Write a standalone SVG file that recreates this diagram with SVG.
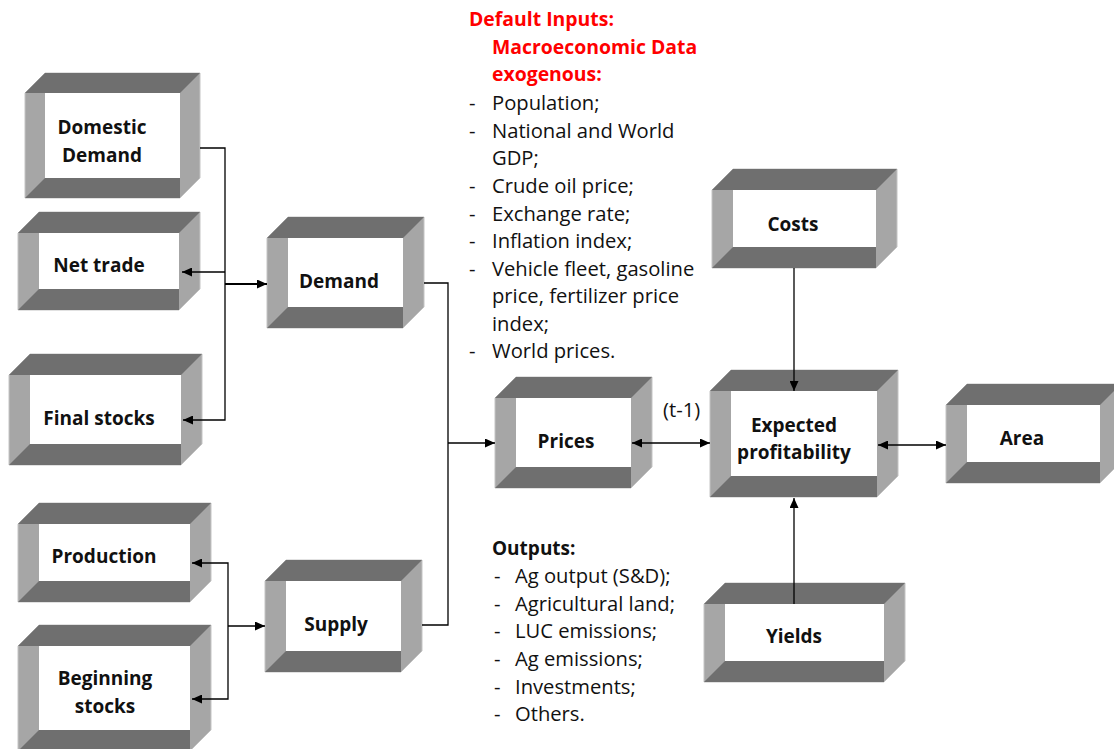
<svg xmlns="http://www.w3.org/2000/svg" width="1114" height="749" viewBox="0 0 1114 749">
<style>
.o{fill:#a6a6a6;stroke:#c4c4c4;stroke-width:1}
.d{fill:#6f6f6f}
.w{fill:#ffffff}
.lb{font-family:"Open Sans","Noto Sans",sans-serif;font-weight:bold;font-size:19px;fill:#111;text-anchor:middle}
.tx{font-family:"Open Sans","Noto Sans",sans-serif;font-size:20.2px;fill:#111}
.tb{font-family:"Open Sans","Noto Sans",sans-serif;font-weight:bold;font-size:19px;fill:#111}
.rd{font-family:"Open Sans","Noto Sans",sans-serif;font-weight:bold;font-size:19.4px;fill:#ff0000}
.c{fill:none;stroke:#000;stroke-width:1.3}
</style>
<defs>
<marker id="ah" markerUnits="userSpaceOnUse" markerWidth="11" markerHeight="9" refX="10" refY="4.5" orient="auto-start-reverse" viewBox="0 0 11 9">
<path d="M0,0 L10,4.5 L0,9 z" fill="#000"/>
</marker>
</defs>
<rect width="1114" height="749" fill="#fff"/>

<g id="domestic-demand">
<polygon class="o" points="25,93 45,73 200,73 200,178 180,198 25,198"/>
<polygon class="d" points="25,93 45,73 200,73 180,93"/>
<polygon class="d" points="25,198 45,178 180,178 180,198"/>
<rect class="w" x="45" y="93" width="135" height="85"/>
<text class="lb" x="102" y="134">Domestic</text>
<text class="lb" x="102" y="162">Demand</text>
</g>

<g id="net-trade">
<polygon class="o" points="18,233 39,212 200,212 200,289 179,310 18,310"/>
<polygon class="d" points="18,233 39,212 200,212 179,233"/>
<polygon class="d" points="18,310 39,289 179,289 179,310"/>
<rect class="w" x="39" y="233" width="140" height="56"/>
<text class="lb" x="99" y="272">Net trade</text>
</g>

<g id="final-stocks">
<polygon class="o" points="9,375 30,354 202,354 202,444 181,465 9,465"/>
<polygon class="d" points="9,375 30,354 202,354 181,375"/>
<polygon class="d" points="9,465 30,444 181,444 181,465"/>
<rect class="w" x="30" y="375" width="151" height="69"/>
<text class="lb" x="99" y="425">Final stocks</text>
</g>

<g id="demand">
<polygon class="o" points="267,238 288,217 424,217 424,307 403,328 267,328"/>
<polygon class="d" points="267,238 288,217 424,217 403,238"/>
<polygon class="d" points="267,328 288,307 403,307 403,328"/>
<rect class="w" x="288" y="238" width="115" height="69"/>
<text class="lb" x="339" y="288">Demand</text>
</g>

<g id="production">
<polygon class="o" points="18,524 39,503 211,503 211,581 190,602 18,602"/>
<polygon class="d" points="18,524 39,503 211,503 190,524"/>
<polygon class="d" points="18,602 39,581 190,581 190,602"/>
<rect class="w" x="39" y="524" width="151" height="57"/>
<text class="lb" x="104" y="563">Production</text>
</g>

<g id="beginning-stocks">
<polygon class="o" points="18,646 39,625 211,625 211,730 190,751 18,751"/>
<polygon class="d" points="18,646 39,625 211,625 190,646"/>
<polygon class="d" points="18,751 39,730 190,730 190,751"/>
<rect class="w" x="39" y="646" width="151" height="84"/>
<text class="lb" x="105" y="685">Beginning</text>
<text class="lb" x="105" y="713">stocks</text>
</g>

<g id="supply">
<polygon class="o" points="265,581 286,560 422,560 422,651 401,672 265,672"/>
<polygon class="d" points="265,581 286,560 422,560 401,581"/>
<polygon class="d" points="265,672 286,651 401,651 401,672"/>
<rect class="w" x="286" y="581" width="115" height="70"/>
<text class="lb" x="336" y="631">Supply</text>
</g>

<g id="prices">
<polygon class="o" points="495,398 516,377 652,377 652,467 631,488 495,488"/>
<polygon class="d" points="495,398 516,377 652,377 631,398"/>
<polygon class="d" points="495,488 516,467 631,467 631,488"/>
<rect class="w" x="516" y="398" width="115" height="69"/>
<text class="lb" x="566" y="448">Prices</text>
</g>

<g id="expected-profitability">
<polygon class="o" points="710,391 731,370 898,370 898,476 877,497 710,497"/>
<polygon class="d" points="710,391 731,370 898,370 877,391"/>
<polygon class="d" points="710,497 731,476 877,476 877,497"/>
<rect class="w" x="731" y="391" width="146" height="85"/>
<text class="lb" x="794" y="432">Expected</text>
<text class="lb" x="794" y="459">profitability</text>
</g>

<g id="costs">
<polygon class="o" points="712,190 733,169 897,169 897,247 876,268 712,268"/>
<polygon class="d" points="712,190 733,169 897,169 876,190"/>
<polygon class="d" points="712,268 733,247 876,247 876,268"/>
<rect class="w" x="733" y="190" width="143" height="57"/>
<text class="lb" x="793" y="231">Costs</text>
</g>

<g id="area">
<polygon class="o" points="946,405 967,384 1121,384 1121,462 1100,483 946,483"/>
<polygon class="d" points="946,405 967,384 1121,384 1100,405"/>
<polygon class="d" points="946,483 967,462 1100,462 1100,483"/>
<rect class="w" x="967" y="405" width="133" height="57"/>
<text class="lb" x="1022" y="445">Area</text>
</g>

<g id="yields">
<polygon class="o" points="704,604 725,583 905,583 905,661 884,682 704,682"/>
<polygon class="d" points="704,604 725,583 905,583 884,604"/>
<polygon class="d" points="704,682 725,661 884,661 884,682"/>
<rect class="w" x="725" y="604" width="159" height="57"/>
<text class="lb" x="794" y="643">Yields</text>
</g>

<g id="connectors">
<path class="c" d="M200,148 H225 V420 H183" marker-end="url(#ah)"/>
<path class="c" d="M225,272 H182" marker-end="url(#ah)"/>
<path class="c" d="M225,284 H267" style="stroke-width:2" marker-end="url(#ah)"/>
<path class="c" d="M424,283 H448 V625 H422"/>
<path class="c" d="M448,443 H495" marker-end="url(#ah)"/>
<path class="c" d="M192,563 H228 V699 H192" marker-start="url(#ah)" marker-end="url(#ah)"/>
<path class="c" d="M228,626 H265" marker-end="url(#ah)"/>
<path class="c" d="M632,443 H710" marker-start="url(#ah)" marker-end="url(#ah)"/>
<path class="c" d="M794,268 V391" marker-end="url(#ah)"/>
<path class="c" d="M794,604 V498" marker-end="url(#ah)"/>
<path class="c" d="M878,445 H946" marker-start="url(#ah)" marker-end="url(#ah)"/>
</g>

<g id="t-1-label">
<text class="tx" x="663" y="417">(t-1)</text>
</g>

<g id="inputs">
<text class="rd" x="469" y="26">Default Inputs:</text>
<text class="rd" x="492" y="54">Macroeconomic Data</text>
<text class="rd" x="492" y="81">exogenous:</text>
<g class="tx">
<text x="469" y="110">-</text><text x="492" y="110">Population;</text>
<text x="469" y="138">-</text><text x="492" y="138">National and World</text>
<text x="492" y="165">GDP;</text>
<text x="469" y="193">-</text><text x="492" y="193">Crude oil price;</text>
<text x="469" y="221">-</text><text x="492" y="221">Exchange rate;</text>
<text x="469" y="248">-</text><text x="492" y="248">Inflation index;</text>
<text x="469" y="276">-</text><text x="492" y="276">Vehicle fleet, gasoline</text>
<text x="492" y="303">price, fertilizer price</text>
<text x="492" y="331">index;</text>
<text x="469" y="358">-</text><text x="492" y="358">World prices.</text>
</g>
</g>

<g id="outputs">
<text class="tb" x="492" y="555">Outputs:</text>
<g class="tx">
<text x="494" y="583">-</text><text x="515" y="583">Ag output (S&amp;D);</text>
<text x="494" y="611">-</text><text x="515" y="611">Agricultural land;</text>
<text x="494" y="638">-</text><text x="515" y="638">LUC emissions;</text>
<text x="494" y="666">-</text><text x="515" y="666">Ag emissions;</text>
<text x="494" y="694">-</text><text x="515" y="694">Investments;</text>
<text x="494" y="721">-</text><text x="515" y="721">Others.</text>
</g>
</g>
</svg>
